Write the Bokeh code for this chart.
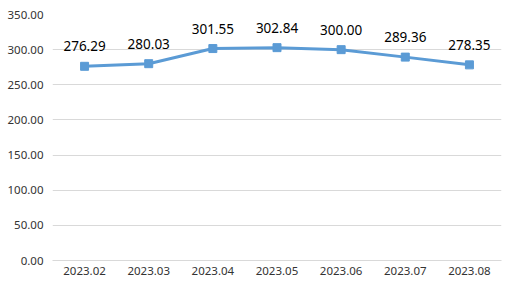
from bokeh.plotting import figure
from bokeh.models import ColumnDataSource, FactorRange, Range1d, FixedTicker, CustomJSTickFormatter, LabelSet
from bokeh.core.properties import value
from bokeh.embed import file_html
from bokeh.resources import INLINE

categories = ["2023.02", "2023.03", "2023.04", "2023.05", "2023.06", "2023.07", "2023.08"]
values = [276.29, 280.03, 301.55, 302.84, 300.00, 289.36, 278.35]
y_ticks = [0, 50, 100, 150, 200, 250, 300, 350]

src = ColumnDataSource(dict(x=categories, y=values, lab=["%.2f" % v for v in values]))

p = figure(width=507, height=288, x_range=FactorRange(*categories, range_padding=0),
           y_range=Range1d(0, 350), output_backend="svg", toolbar_location=None,
           min_border_left=52, min_border_right=6, min_border_top=14, min_border_bottom=28)
p.x_range.factor_padding = 0
p.outline_line_color = None
p.background_fill_color = "white"
p.border_fill_color = "white"

p.line("x", "y", source=src, line_color="#5B9BD5", line_width=3)
p.scatter("x", "y", source=src, marker="square", size=8, fill_color="#5B9BD5", line_color="#5B9BD5")

labels = LabelSet(x="x", y="y", text="lab", source=src, text_align="center", text_baseline="middle",
                  y_offset=20, text_font_size="13.5px", text_color="#000000",
                  text_font=value("Noto Sans"))
p.add_layout(labels)

p.yaxis.ticker = FixedTicker(ticks=y_ticks)
p.yaxis.formatter = CustomJSTickFormatter(code="return tick.toFixed(2);")
p.yaxis.axis_line_color = None
p.yaxis.major_tick_line_color = None
p.yaxis.minor_tick_line_color = None
p.yaxis.major_tick_out = 0
p.yaxis.major_tick_in = 0
p.yaxis.minor_tick_out = 0
p.yaxis.major_label_text_font_size = "11.5px"
p.yaxis.major_label_text_font = "Noto Sans"
p.yaxis.major_label_text_color = "#333333"
p.yaxis.major_label_standoff = 9

p.xaxis.axis_line_color = "#D9D9D9"
p.xaxis.major_tick_line_color = None
p.xaxis.minor_tick_line_color = None
p.xaxis.major_tick_out = 0
p.xaxis.major_tick_in = 0
p.xaxis.minor_tick_out = 0
p.xaxis.major_label_text_font_size = "11.5px"
p.xaxis.major_label_text_font = "Noto Sans"
p.xaxis.major_label_text_color = "#333333"
p.xaxis.major_label_standoff = 6

p.xgrid.grid_line_color = None
p.ygrid.grid_line_color = "#D9D9D9"
p.ygrid.grid_line_width = 1

open("out.html", "w").write(file_html(p, INLINE))
